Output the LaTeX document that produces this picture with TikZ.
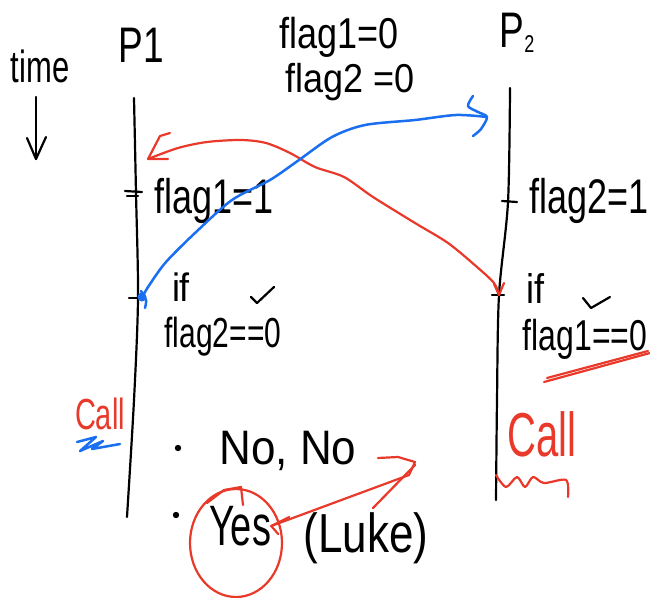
\documentclass[tikz,border=0pt]{standalone}
\usepackage{fontspec}
\usepackage{graphicx}
\setmainfont{Liberation Sans}
\usetikzlibrary{calc}
\definecolor{inkred}{HTML}{E8392B}
\definecolor{inkblue}{HTML}{1A6EF0}
\newcommand\vstretch[2]{\scalebox{1}[#1]{#2}}
\begin{document}
\begin{tikzpicture}[x=1pt,y=-1pt,
  ink/.style={line width=2.2pt,line cap=round,line join=round},
  redink/.style={ink,draw=inkred},
  blueink/.style={ink,draw=inkblue,line width=2.5pt},
  lbl/.style={inner sep=0pt,font=\fontsize{#1}{#1}\selectfont},
]
\useasboundingbox (0,0) rectangle (650,597);
\fill[white] (0,0) rectangle (650,597);

% headings
\node[lbl=31pt] (time) at (40,66) {\vstretch{1.45}{time}};
\coordinate (tA) at (36,97);
\coordinate (tB) at (36,159);
\draw[ink] (tA) -- (tB);
\draw[ink] ($(tB)+(-9,-21)$) -- (tB) -- ($(tB)+(10,-22)$);

\node[lbl=37pt] (P1) at (141,45) {\vstretch{1.35}{P1}};
\node[lbl=37pt] (P2) at (517,33) {\vstretch{1.35}{P\raisebox{-0.2ex}{\fontsize{18pt}{18pt}\selectfont 2}}};
\node[lbl=36pt] (f1) at (339,37) {\vstretch{1.2}{flag1=0}};
\node[lbl=36pt] (f2) at (350,82) {\vstretch{1.12}{flag2 =0}};

% timelines
\coordinate (p1top) at (134,98);
\coordinate (p1w) at (136,193);
\coordinate (p1r) at (138,298);
\coordinate (p1m) at (134,400);
\coordinate (p1bot) at (127,517);
\draw[ink] plot[smooth] coordinates {(p1top) (p1w) (p1r) (p1m) (p1bot)};

\coordinate (p2top) at (510,88);
\coordinate (p2w) at (508,202);
\coordinate (p2r) at (499,295);
\coordinate (p2m) at (497,400);
\coordinate (p2bot) at (496,500);
\draw[ink] plot[smooth] coordinates {(p2top) (p2w) (p2r) (p2m) (p2bot)};

% ticks
\draw[ink] ($(p1w)+(-11,-2)$) -- ($(p1w)+(6,-1)$);
\draw[ink] ($(p1w)+(-9,3)$) -- ($(p1w)+(2,3)$);
\draw[ink] ($(p1r)+(-9,0)$) -- ($(p1r)+(3,0)$);
\draw[ink] ($(p2w)+(-6,-1)$) -- ($(p2w)+(9,0)$);
\draw[ink] ($(p2r)+(-7,0)$) -- ($(p2r)+(5,0)$);

% P1 labels
\node[lbl=36pt] (w1) at (214,201) {\vstretch{1.35}{flag1=1}};
\node[lbl=36pt] (if1) at (181,287) {\vstretch{1.1}{if}};
\node[lbl=30pt] (c1) at (223,337) {\vstretch{1.4}{flag2==0}};
\coordinate (ck1) at (257,303);
\draw[ink] ($(ck1)+(-6,-6)$) -- (ck1) -- ($(ck1)+(17,-16)$);

% P2 labels
\node[lbl=36pt] (w2) at (589,201) {\vstretch{1.35}{flag2=1}};
\node[lbl=36pt] (if2) at (535,288) {\vstretch{1.15}{if}};
\node[lbl=32pt] (c2) at (585,339) {\vstretch{1.35}{flag1==0}};
\coordinate (ck2) at (591,308);
\draw[ink] ($(ck2)+(-8,-10)$) -- (ck2) -- ($(ck2)+(19,-11)$);

% red arrow: flag1 write of P1 seen by P2
\coordinate (rW) at (148,159);
\draw[redink] plot[smooth] coordinates {(rW) (178,148) (207,142) (241,140) (266,143) (290,153) (315,167) (344,177) (373,197) (415,223) (448,243) (477,267) (494,283) (p2r)};
\draw[redink] ($(rW)+(22,-26)$) -- ($(rW)+(12,-23)$) -- (rW) -- ($(rW)+(20,0)$);
\draw[redink] ($(p2r)+(-5,-11)$) -- (p2r) -- ($(p2r)+(5,-12)$);

% blue arrow
\coordinate (bS) at (142,297);
\coordinate (bEnd) at (487,117);
\fill[inkblue] (bS) circle (4.5);
\draw[blueink] plot[smooth] coordinates {(bS) (150,284) (166,262) (195,233) (232,200) (270,180) (299,160) (332,137) (365,125) (415,120) (456,115) (bEnd)};
\draw[blueink] plot[smooth] coordinates {($(bEnd)+(-14,-21)$) ($(bEnd)+(-19,-11)$) ($(bEnd)+(-9,-5)$) (bEnd) ($(bEnd)+(-6,12)$) ($(bEnd)+(-14,19)$)};
\draw[blueink] plot[smooth] coordinates {($(bS)+(-1,-6)$) ($(bS)+(4,3)$) ($(bS)+(3,11)$)};

% red underline
\draw[redink] (544,382) -- (650,353);
\draw[redink] (547,378) -- (648,351);

% Call labels
\node[lbl=29pt,text=inkred] (call1) at (100,414) {\vstretch{1.5}{Call}};
\draw[blueink] (77,442) -- (96,437) -- (80,451) -- (103,441) -- (92,449) -- (120,444);
\node[lbl=40pt,text=inkred] (call2) at (542,434) {\vstretch{1.55}{Call}};
\draw[redink] plot[smooth] coordinates {(496,475) (506,487) (517,477) (525,487) (533,477) (544,483) (566,480) (568,497)};

% answers
\fill (178,448) circle (3.2);
\fill (176,515) circle (3.2);
\node[lbl=44pt] (nono) at (288,451) {\vstretch{1.1}{No, No}};
\node[lbl=38pt] (yes) at (240,526) {\vstretch{1.5}{Yes}};
\node[lbl=44pt] (luke) at (366,538) {\vstretch{1.25}{(Luke)}};

% red circle and arrow
\draw[redink] (236,543) ellipse [x radius=46, y radius=54];
\draw[redink] (207,503) -- (224,490) -- (241,487) -- (243,505);
\coordinate (rq) at (409,475);
\draw[redink] (378,458) -- (398,457) -- (415,462) -- (rq);
\draw[redink] (415,465) -- (373,508);
\draw[redink] (rq) -- (yes.east);
\draw[redink] ($(yes.east)+(18,-9)$) -- (yes.east) -- ($(yes.east)+(7,8)$);
\end{tikzpicture}
\end{document}
